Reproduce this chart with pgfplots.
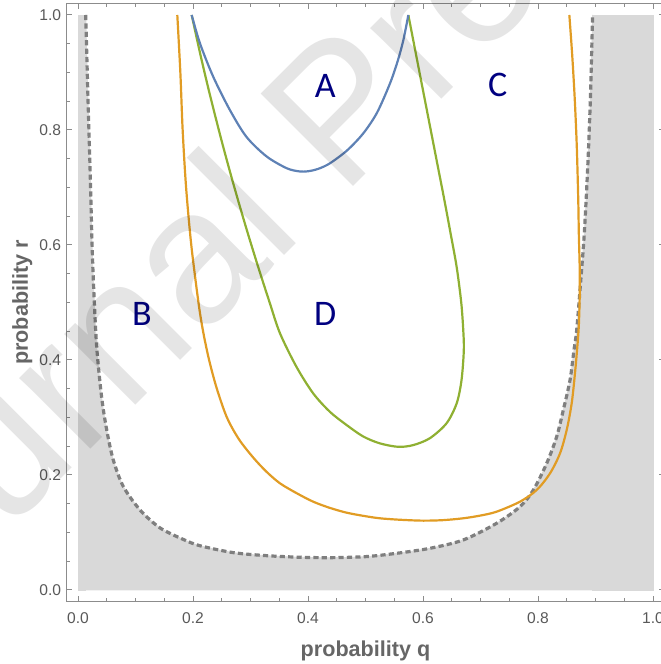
\documentclass[border=0pt]{standalone}
\usepackage{fontspec}
\setmainfont{Liberation Sans}
\newfontfamily\carlito{Carlito}
\usepackage{pgfplots}
\usepackage{pgfplotstable}
\pgfplotsset{compat=1.18}

\definecolor{mblue}{HTML}{5E81B5}
\definecolor{morange}{HTML}{E19C24}
\definecolor{mgreen}{HTML}{8FB032}
\definecolor{mgray}{HTML}{D9D9D9}
\definecolor{dashgray}{HTML}{7F7F7F}
\definecolor{lettercol}{HTML}{000080}

\tikzset{letter/.style={font=\carlito\fontsize{18pt}{20pt}\selectfont, text=lettercol}}

% boundary of the shaded region (dashed curve)
\pgfplotstableread{
x y
0.0134 1.000
0.0175 0.850
0.0209 0.736
0.0245 0.600
0.0275 0.520
0.0325 0.423
0.0410 0.336
0.0500 0.278
0.0614 0.226
0.0788 0.180
0.1080 0.139
0.1426 0.108
0.1830 0.088
0.2120 0.077
0.2700 0.065
0.3280 0.0597
0.3850 0.0570
0.4380 0.0562
0.5000 0.0580
0.5540 0.0638
0.6120 0.0725
0.6700 0.0870
0.7280 0.1160
0.7687 0.1449
0.7919 0.1739
0.8150 0.2200
0.8325 0.2667
0.8440 0.3130
0.8557 0.3650
0.8626 0.4174
0.8673 0.4520
0.8745 0.5400
0.8805 0.6200
0.8865 0.7360
0.8910 0.8520
0.8950 1.000
}\boundary

\begin{document}
\begin{tikzpicture}
\begin{axis}[
    scale only axis, width=299pt, height=299pt,
    xmin=-0.02, xmax=1.02, ymin=-0.02, ymax=1.02,
    xtick={0,0.2,0.4,0.6,0.8,1}, ytick={0,0.2,0.4,0.6,0.8,1},
    minor tick num=3,
    tick align=inside,
    major tick length=2.8pt, minor tick length=1.8pt,
    axis line style={draw=black!45, line width=0.5pt},
    every tick/.style={draw=black!45, line width=0.5pt},
    tick label style={font=\fontsize{7.8pt}{9pt}\selectfont, text=black!65, inner sep=0pt},
    /pgf/number format/fixed, /pgf/number format/fixed zerofill,
    /pgf/number format/precision=1, /pgf/number format/assume math mode=true,
    xticklabel style={anchor=center, yshift=-8.25pt},
    yticklabel style={anchor=east, xshift=-2.5pt},
    xlabel={probability q}, ylabel={probability r},
    label style={font=\fontsize{10.8pt}{13pt}\selectfont\bfseries, text=black!60},
    xlabel style={at={(axis description cs:0.5,-0.0923)}, anchor=base},
    ylabel style={at={(axis description cs:-0.0644,0.5)}, anchor=base},
]
% shaded region
\addplot[draw=mgray, line width=0.4pt, fill=mgray] coordinates {(0,0)(0,1)(0.0134,1)(0.0134,0)} -- cycle;
\addplot[draw=mgray, line width=0.4pt, fill=mgray] coordinates {(0.895,0)(0.895,1)(1,1)(1,0)} -- cycle;
\addplot[draw=mgray, line width=0.4pt, fill=mgray, smooth] table {\boundary} \closedcycle;
\addplot[dashgray, line width=1.6pt, dash pattern=on 2.6pt off 1.6pt, smooth] table {\boundary};

% orange
\addplot[morange, line width=1.1pt, smooth] coordinates {
(0.1727,1.0)(0.178,0.9)(0.182,0.8)(0.188,0.7)(0.197,0.6)(0.2095,0.5)(0.2175,0.45)
(0.228,0.4)(0.2415,0.35)(0.259,0.30)(0.280,0.262)(0.305,0.230)(0.328,0.2055)
(0.3513,0.1855)(0.380,0.1685)(0.409,0.1536)(0.438,0.1428)(0.467,0.1345)
(0.496,0.1290)(0.525,0.1247)(0.563,0.1220)(0.6006,0.1206)(0.635,0.1215)
(0.670,0.1247)(0.700,0.1295)(0.728,0.1362)(0.7687,0.1536)(0.7977,0.1739)
(0.8209,0.2029)(0.8383,0.2377)(0.8499,0.2783)(0.8586,0.3247)(0.8643,0.3768)
(0.8684,0.4232)(0.8710,0.460)(0.8725,0.51)(0.8725,0.56)(0.8710,0.62)
(0.870,0.678)(0.8675,0.77)(0.864,0.852)(0.8595,0.93)(0.8545,1.0)};

% green
\addplot[mgreen, line width=1.1pt, smooth] coordinates {
(0.1977,1.0)(0.2131,0.93)(0.2297,0.86)(0.2501,0.78)(0.270,0.707)(0.2924,0.63)
(0.3133,0.562)(0.3333,0.50)(0.3513,0.4464)(0.380,0.388)(0.409,0.342)(0.438,0.310)
(0.467,0.287)(0.496,0.267)(0.525,0.255)(0.557,0.249)(0.583,0.252)(0.612,0.264)
(0.641,0.290)(0.6586,0.3247)(0.667,0.365)(0.671,0.417)(0.670,0.452)(0.6665,0.50)
(0.6585,0.562)(0.648,0.62)(0.6372,0.678)(0.6259,0.736)(0.6146,0.794)(0.6033,0.852)
(0.592,0.91)(0.5745,1.0)};

% blue
\addplot[mblue, line width=1.1pt, smooth] coordinates {
(0.1977,1.0)(0.212,0.951)(0.235,0.893)(0.264,0.835)(0.293,0.788)(0.328,0.754)
(0.363,0.7335)(0.385,0.7280)(0.400,0.7282)(0.418,0.7325)(0.438,0.742)(0.468,0.7645)
(0.496,0.794)(0.520,0.83)(0.5426,0.881)(0.556,0.92)(0.566,0.957)(0.5745,1.0)};

\node[letter] at (axis cs:0.430,0.876) {A};
\node[letter] at (axis cs:0.111,0.480) {B};
\node[letter] at (axis cs:0.730,0.879) {C};
\node[letter] at (axis cs:0.430,0.480) {D};

\coordinate (wm) at (axis cs:0.532,0.754);
\end{axis}
% watermark
\node[rotate=45, anchor=base, opacity=0.1, inner sep=0pt,
      font=\fontsize{95pt}{95pt}\selectfont] at (wm) {Journal Pre-proof};
\pgfresetboundingbox
\path[use as bounding box] ([shift={(-33.25pt,-31.25pt)}]current axis.south west)
    rectangle ([shift={(-2.25pt,1.75pt)}]current axis.north east);
\end{tikzpicture}
\end{document}
